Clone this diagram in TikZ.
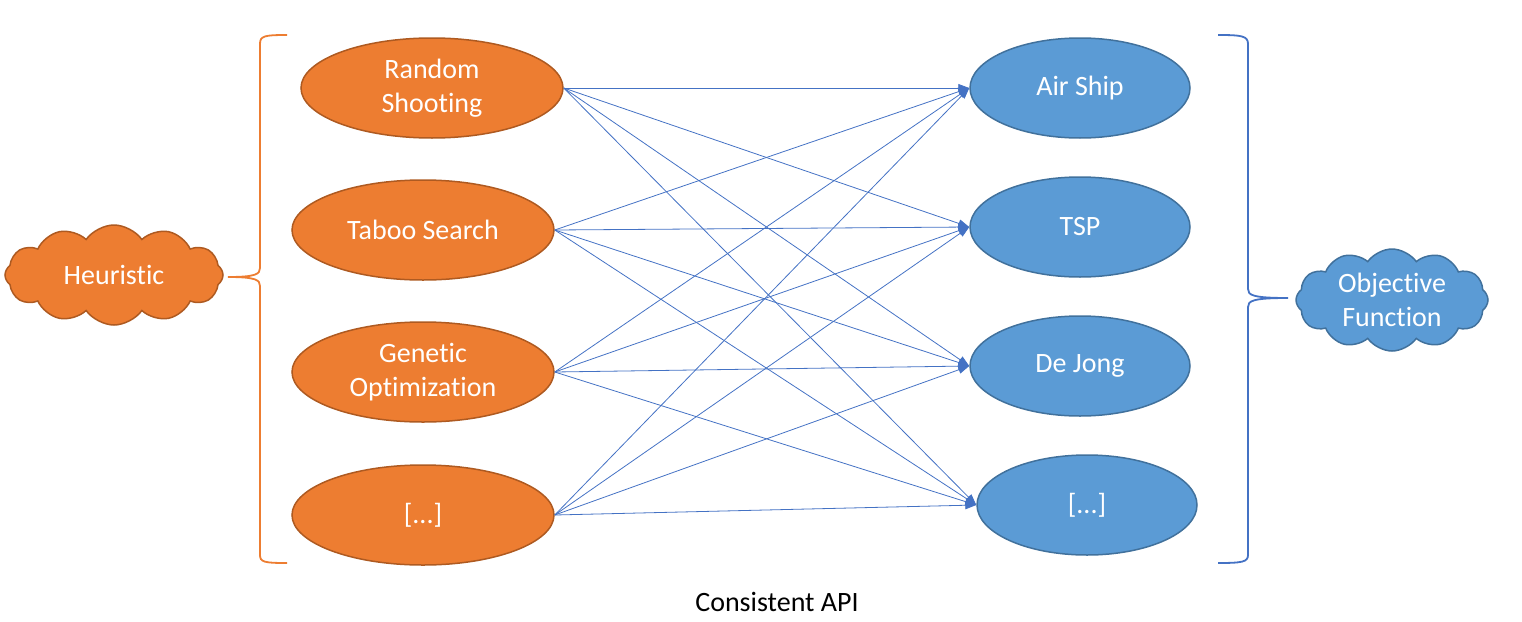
\documentclass[tikz,border=0pt]{standalone}
\usepackage{fontspec}
\setmainfont{Carlito}[Ligatures={NoCommon}]
\usetikzlibrary{shapes.geometric,shapes.symbols,arrows.meta}
\definecolor{orfill}{HTML}{ED7D31}
\definecolor{ordraw}{HTML}{AE5A21}
\definecolor{blfill}{HTML}{5B9BD5}
\definecolor{bldraw}{HTML}{41719C}
\definecolor{conn}{HTML}{4472C4}
\begin{document}
\begin{tikzpicture}[x=1pt,y=-1pt,
  txt/.style={font=\fontsize{28}{34}\selectfont, align=center},
  heur/.style={ellipse, txt, text=white, fill=orfill, draw=ordraw, line width=1.5pt, minimum width=262pt, minimum height=100pt, inner sep=0pt},
  obj/.style={ellipse, txt, text=white, fill=blfill, draw=bldraw, line width=1.5pt, minimum width=220pt, minimum height=100pt, inner sep=0pt},
  heurcloud/.style={cloud, cloud puffs=12, cloud puff arc=110, aspect=2.2, txt, text=white, fill=orfill, draw=ordraw, line width=1.5pt, minimum width=218pt, minimum height=100pt, inner sep=0pt},
  objcloud/.style={cloud, cloud puffs=12, cloud puff arc=110, aspect=1.9, txt, text=white, fill=blfill, draw=bldraw, line width=1.5pt, minimum width=192pt, minimum height=102pt, inner sep=0pt},
  link/.style={conn, line width=0.8pt, -{Triangle[length=11pt,width=8pt]}},
  obrace/.style={orfill, line width=1.8pt},
  bbrace/.style={conn, line width=1.8pt}
]
\useasboundingbox (0,0) rectangle (1522,621);

\node[heur] (rs) at (432,88) {Random\\Shooting};
\node[heur] (ts) at (423,230) {Taboo Search};
\node[heur] (go) at (423,372) {Genetic\\Optimization};
\node[heur] (hx) at (423,515) {[...]};

\node[obj] (as) at (1080,88) {Air Ship};
\node[obj] (tsp) at (1080,227) {TSP};
\node[obj] (dj) at (1080,366) {De Jong};
\node[obj] (ox) at (1087,505) {[...]};

\node[heurcloud] (hc) at (114,275) {Heuristic};
\node[objcloud] (oc) at (1392,300) {Objective\\Function};

\foreach \s in {rs,ts,go,hx}{
  \foreach \t in {as,tsp,dj,ox}{
    \draw[link] (\s.east) -- (\t.west);
  }
}

% left brace
\coordinate (lbt) at (287,35);
\coordinate (lbb) at (287,563);
\coordinate (lbm) at (228,277);
\draw[obrace] (lbt) .. controls (264,35) and (260,36) .. (260,44)
  -- (260,268) .. controls (260,274) and (256,277) .. (lbm)
  .. controls (256,277) and (260,280) .. (260,286)
  -- (260,555) .. controls (260,562) and (264,563) .. (lbb);

% right brace
\coordinate (rbt) at (1218,35);
\coordinate (rbb) at (1218,563);
\coordinate (rbm) at (1288,298);
\draw[bbrace] (rbt) .. controls (1242,35) and (1248,36) .. (1248,44)
  -- (1248,289) .. controls (1248,295) and (1252,298) .. (rbm)
  .. controls (1252,298) and (1248,301) .. (1248,307)
  -- (1248,555) .. controls (1248,562) and (1242,563) .. (rbb);

\node[txt] (api) at (777,602) {Consistent API};
\end{tikzpicture}
\end{document}
